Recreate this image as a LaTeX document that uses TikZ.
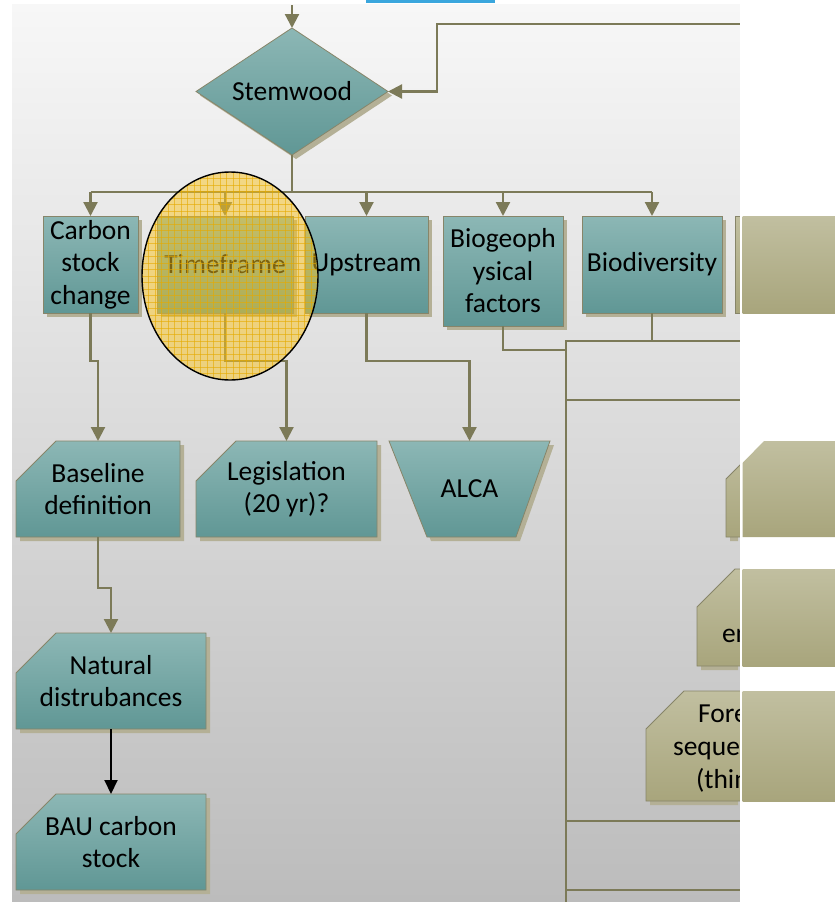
\documentclass[tikz,border=0pt]{standalone}
\usepackage{fontspec}
\setmainfont{Carlito}
\usetikzlibrary{arrows.meta,calc}
\definecolor{tealtop}{RGB}{140,183,181}
\definecolor{tealbot}{RGB}{96,151,149}
\definecolor{olivetop}{RGB}{193,191,160}
\definecolor{olivebot}{RGB}{168,165,124}
\definecolor{linec}{RGB}{124,122,88}
\definecolor{edgec}{RGB}{135,133,105}
\definecolor{shadowc}{RGB}{180,176,150}
\definecolor{bgtop}{RGB}{247,247,247}
\definecolor{bgbot}{RGB}{188,188,188}
\definecolor{yel}{RGB}{250,196,30}
\definecolor{yelgrid}{RGB}{230,170,0}
\definecolor{bluebar}{RGB}{58,166,221}
\pgfdeclarelayer{backl}
\pgfdeclarelayer{shadowl}
\pgfdeclarelayer{shapel}
\pgfsetlayers{backl,shadowl,shapel,main}
\tikzset{
  lbl/.style={inner sep=0pt, outer sep=0pt, align=center, font=\fontsize{27.5}{32.5}\selectfont, text=black},
  frag/.style={inner sep=0pt, outer sep=0pt, anchor=base west, font=\fontsize{27.5}{32.5}\selectfont, text=black},
  conn/.style={draw=linec, line width=2.2pt},
  arr/.style={conn, -{Triangle[length=14pt,width=14pt]}},
  tealfill/.style={top color=tealtop, bottom color=tealbot, draw=edgec, line width=0.8pt},
  olivefill/.style={top color=olivetop, bottom color=olivebot, draw=edgec, line width=0.8pt},
  olivebare/.style={top color=olivetop, bottom color=olivebot},
  shad/.style={fill=shadowc, transform canvas={xshift=4pt,yshift=-4pt}},
}
\newcommand{\cutpath}[2]{(#1.south west) -- ($(#1.north west)+(0,#2)$) -- ($(#1.north west)+(#2,0)$) -- (#1.north east) -- (#1.south east) -- cycle}
\newcommand{\boxpath}[1]{(#1.south west) rectangle (#1.north east)}
\begin{document}
\begin{tikzpicture}[x=1pt,y=-1pt]
\useasboundingbox (0,0) rectangle (835,902);
\begin{pgfonlayer}{backl}
  \fill[white] (0,0) rectangle (835,902);
  \shade[top color=bgtop, bottom color=bgbot] (12,4) rectangle (740,902);
  \fill[bluebar] (366,0) rectangle (495,2.5);
\end{pgfonlayer}

% ---------- nodes ----------
\node[lbl, minimum width=192pt, minimum height=127pt] (stem) at (292,91.5) {Stemwood};
\node[lbl, minimum width=95pt, minimum height=97pt] (carbon) at (90.5,264.5) {Carbon\\stock\\change};
\node[lbl, minimum width=136pt, minimum height=97pt] (time) at (225,264.5) {Timeframe};
\node[lbl, minimum width=123pt, minimum height=97pt] (up) at (366.5,264.5) {Upstream};
\node[lbl, minimum width=120pt, minimum height=110pt] (bio) at (503,271) {Biogeoph\\ysical\\factors};
\node[lbl, minimum width=140pt, minimum height=97pt] (biod) at (652,264.5) {Biodiversity};
\node[lbl, minimum width=100pt, minimum height=97pt] (ol1) at (785,264.5) {};
\node[lbl, minimum width=164pt, minimum height=96pt] (base) at (98,489) {Baseline\\definition};
\node[lbl, minimum width=181pt, minimum height=96pt] (leg) at (286.5,489) {Legislation\\(20 yr)?};
\node[lbl, minimum width=161pt, minimum height=96pt] (alca) at (469.5,489) {ALCA};
\node[lbl, minimum width=190pt, minimum height=96pt] (nat) at (111,681) {Natural\\distrubances};
\node[lbl, minimum width=190pt, minimum height=96pt] (bau) at (111,842) {BAU carbon\\stock};
\node[lbl, minimum width=109pt, minimum height=96pt] (oa) at (780.5,489) {};
\node[lbl, minimum width=138pt, minimum height=97pt] (ob) at (766,617.5) {};
\node[lbl, minimum width=189pt, minimum height=110pt] (oc) at (740.5,746) {};

\begin{scope}
  \clip (0,0) rectangle (740,902);
  \node[frag] (obt) at (722,642) {en};
  \node[frag] (oct1) at (698,722) {Fore};
  \node[frag] (oct2) at (673,755) {seque};
  \node[frag] (oct3) at (696,788) {(thin};
\end{scope}

% ---------- shadows ----------
\begin{pgfonlayer}{shadowl}
  \path[shad] (stem.north) -- (stem.east) -- (stem.south) -- (stem.west) -- cycle;
  \foreach \n in {carbon,time,up,bio,biod} {\path[shad] \boxpath{\n};}
  \foreach \n in {base,leg,nat,bau} {\path[shad] \cutpath{\n}{40};}
  \path[shad] (alca.north west) -- (alca.north east) -- ($(alca.south east)+(-34,0)$) -- ($(alca.south west)+(38,0)$) -- cycle;
  \begin{scope}
    \clip (0,0) rectangle (738,902);
    \path[shad] \boxpath{ol1};
    \path[shad] \cutpath{oa}{38};
    \path[shad] \cutpath{ob}{38};
    \path[shad] \cutpath{oc}{38};
  \end{scope}
\end{pgfonlayer}

% ---------- shapes ----------
\begin{pgfonlayer}{shapel}
  \path[tealfill] (stem.north) -- (stem.east) -- (stem.south) -- (stem.west) -- cycle;
  \foreach \n in {carbon,time,up,bio,biod} {\path[tealfill] \boxpath{\n};}
  \foreach \n in {base,leg,nat,bau} {\path[tealfill] \cutpath{\n}{40};}
  \path[tealfill] (alca.north west) -- (alca.north east) -- ($(alca.south east)+(-34,0)$) -- ($(alca.south west)+(38,0)$) -- cycle;
  \begin{scope}
    \clip (0,0) rectangle (740,902);
    \path[olivefill] \boxpath{ol1};
    \path[olivefill] \cutpath{oa}{38};
    \path[olivefill] \cutpath{ob}{38};
    \path[olivefill] \cutpath{oc}{38};
  \end{scope}
\end{pgfonlayer}

% ---------- connectors ----------
\coordinate (topin) at (292,5);
\coordinate (rin) at (740,24);
\coordinate (busc) at (292,192);
\coordinate (vtop) at (566,341);
\coordinate (vbot) at (566,902);
\coordinate (j1) at (566,350);
\coordinate (h341) at (740,341);
\coordinate (h400a) at (566,400);
\coordinate (h400b) at (740,400);
\coordinate (h821a) at (566,821);
\coordinate (h821b) at (740,821);
\coordinate (h890a) at (566,890);
\coordinate (h890b) at (740,890);

\draw[arr] (topin) -- (stem.north);
\draw[arr] (rin) -| ([xshift=49pt]stem.east) -- (stem.east);
\draw[conn] (stem.south) -- (busc);
\draw[conn] (carbon.north |- busc) -- (biod.north |- busc);
\foreach \n in {carbon,time,up,bio,biod} {\draw[arr] (\n.north |- busc) -- (\n.north);}
\draw[arr] (carbon.south) -- ++(0,48) -| (base.north);
\draw[arr] (time.south) -- ++(0,48) -| (leg.north);
\draw[arr] (up.south) -- ++(0,48) -| (alca.north);
\draw[arr] (base.south) -- ++(0,51) -| (nat.north);
\draw[black, line width=2pt, -{Triangle[length=14pt,width=13pt]}] (nat.south) -- (bau.north);
\draw[conn] (bio.south) |- (j1);
\draw[conn] (biod.south) -- (biod.south |- vtop);
\draw[conn] (h341) -- (vtop) -- (vbot);
\draw[conn] (h400a) -- (h400b);
\draw[conn] (h821a) -- (h821b);
\draw[conn] (h890a) -- (h890b);

% ---------- highlight ellipse ----------
\fill[yel, opacity=0.5] (230,276) ellipse [x radius=88, y radius=104];
\begin{scope}
  \clip (230,276) ellipse [x radius=88, y radius=104];
  \foreach \i in {0,...,28} {\draw[yelgrid, opacity=0.6, line width=0.8pt] (142+\i*6.5,170) -- (142+\i*6.5,382);}
  \foreach \i in {0,...,33} {\draw[yelgrid, opacity=0.6, line width=0.8pt] (140,172+\i*6.5) -- (320,172+\i*6.5);}
\end{scope}
\draw[black, line width=1.4pt] (230,276) ellipse [x radius=88, y radius=104];

% ---------- cut strip and overlay ----------
\fill[white] (740,0) rectangle (742.5,902);
\shade[olivebare] (742.5,216) rectangle (835,313);
\shade[olivebare] (742.5,463) -- (764,441) -- (835,441) -- (835,537) -- (742.5,537) -- cycle;
\shade[olivebare] (742.5,569) rectangle (835,666);
\shade[olivebare] (742.5,691) rectangle (835,801);
\end{tikzpicture}
\end{document}
